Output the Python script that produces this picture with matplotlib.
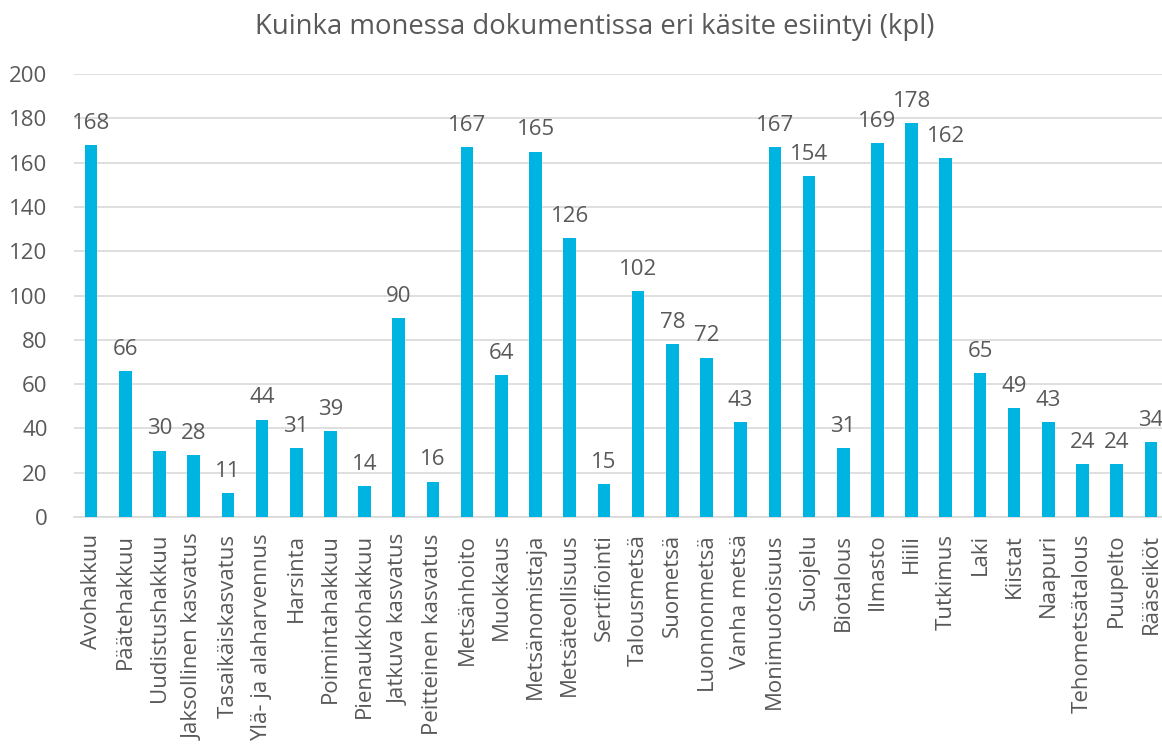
import matplotlib.pyplot as plt
import numpy as np

categories = ["Avohakkuu", "Päätehakkuu", "Uudistushakkuu", "Jaksollinen kasvatus",
              "Tasaikäiskasvatus", "Ylä- ja alaharvennus", "Harsinta", "Poimintahakkuu",
              "Pienaukkohakkuu", "Jatkuva kasvatus", "Peitteinen kasvatus", "Metsänhoito",
              "Muokkaus", "Metsänomistaja", "Metsäteollisuus", "Sertifiointi",
              "Talousmetsä", "Suometsä", "Luonnonmetsä", "Vanha metsä", "Monimuotoisuus",
              "Suojelu", "Biotalous", "Ilmasto", "Hiili", "Tutkimus", "Laki", "Kiistat",
              "Naapuri", "Tehometsätalous", "Puupelto", "Rääseiköt"]
counts = [168, 66, 30, 28, 11, 44, 31, 39, 14, 90, 16, 167, 64, 165, 126, 15,
          102, 78, 72, 43, 167, 154, 31, 169, 178, 162, 65, 49, 43, 24, 24, 34]

plt.rcParams['font.family'] = ['Open Sans', 'DejaVu Sans']
txt = '#595959'

W, H = 1162, 744
fig = plt.figure(figsize=(W / 100, H / 100), dpi=100)
# axes run a bit past the right edge, like the cropped original
ax = fig.add_axes([74 / W, 1 - 517 / H, (1168 - 74) / W, (517 - 74) / H])

x = np.arange(len(categories))
ax.bar(x, counts, width=0.37, color='#00B4E2', zorder=3)
for xi, v in zip(x, counts):
    ax.annotate(str(v), (xi, v), xytext=(0, 8), textcoords='offset points',
                ha='center', va='bottom', fontsize=16, color=txt)

ax.set_xlim(-0.5, len(categories) - 0.5)
ax.set_ylim(0, 200)
ax.set_yticks(range(0, 201, 20))
ax.yaxis.grid(True, color='#d9d9d9', linewidth=1.2, zorder=0)
ax.set_xticks(x)
ax.set_xticklabels(categories, rotation=90, fontsize=16, color=txt)
ax.tick_params(axis='y', labelsize=16, labelcolor=txt, length=0, pad=19)
ax.tick_params(axis='x', length=0, pad=12)
for s in ['top', 'right', 'left']:
    ax.spines[s].set_visible(False)
ax.spines['bottom'].set_color('#d9d9d9')
ax.spines['bottom'].set_linewidth(1.2)

fig.text(595 / W, 1 - 27 / H, 'Kuinka monessa dokumentissa eri käsite esiintyi (kpl)',
         ha='center', va='center', fontsize=19.8, color=txt)

fig.savefig('out.png', dpi=100)
